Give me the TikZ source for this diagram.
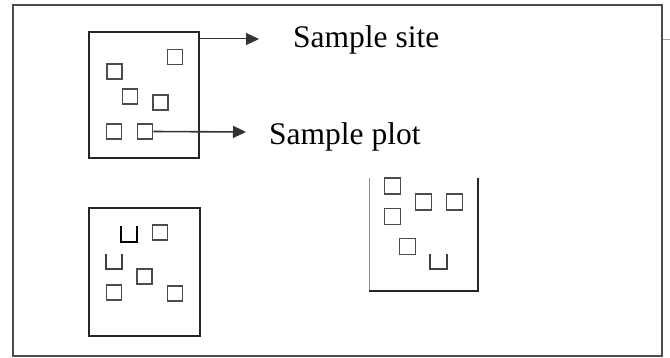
\documentclass[tikz,border=0pt]{standalone}
\usepackage{fontspec}
\setmainfont{Liberation Serif}
\usetikzlibrary{arrows.meta}
\begin{document}
\begin{tikzpicture}[x=1pt,y=-1pt,
  frame/.style={draw=black!70,line width=2pt},
  site/.style={draw=black!85,line width=1.4pt,inner sep=0pt},
  sq/.style={draw=black!70,line width=1.8pt,minimum size=15pt,inner sep=0pt},
  ushape/.style={draw=black!75,line width=1.8pt},
  conn/.style={draw=black!80,line width=1pt,-{Triangle[length=13pt,width=12pt]}},
  lbl/.style={inner sep=0pt,font=\fontsize{31.5}{36}\selectfont}]
\useasboundingbox (0,0) rectangle (670,358);
\fill[white] (0,0) rectangle (670,358);
% outer frame
\node[frame,minimum width=649pt,minimum height=351pt,inner sep=0pt] (outer) at (337.5,180.5) {};
\coordinate (tickA) at (663,39);
\coordinate (tickB) at (670,39);
\draw[black!35,line width=0.8pt] (tickA) -- (tickB);
% box 1 (sample site)
\node[site,minimum width=110pt,minimum height=126pt] (box1) at (144,95) {};
\node[sq] (a1) at (175,57) {};
\node[sq] (a2) at (114.5,71.5) {};
\node[sq] (a3) at (130,96.5) {};
\node[sq] (a4) at (160.5,102.5) {};
\node[sq] (a5) at (114,131.5) {};
\node[sq] (a6) at (145,131.5) {};
% labels
\node[lbl,anchor=base west] (site) at (293,48) {Sample site};
\node[lbl,anchor=base west] (plot) at (269,145) {Sample plot};
\coordinate (tip1) at (259,39);
\coordinate (tip2) at (246,132);
\draw[conn] (box1.east |- tip1) -- (tip1);
\draw[conn,line width=1.6pt] (a6.east) -- (tip2);
% box 2
\node[site,minimum width=111pt,minimum height=128pt] (box2) at (144.5,272) {};
\draw[ushape,draw=black,line width=2.4pt] (121,226) -- (121,242) -- (137,242) -- (137,226);
\node[sq] (b1) at (160,232.5) {};
\draw[ushape] (106,254) -- (106,269) -- (122,269) -- (122,254);
\node[sq] (b2) at (144.5,276.5) {};
\node[sq] (b3) at (114,292.5) {};
\node[sq] (b4) at (175,293.5) {};
% box 3 (top hidden behind label)
\coordinate (c3tl) at (369,178);
\coordinate (c3bl) at (369,291);
\coordinate (c3br) at (478,291);
\coordinate (c3tr) at (478,178);
\draw[black!45,line width=1pt] (c3tl) -- (c3bl);
\draw[black!85,line width=1.5pt] (c3bl) -- (c3br) -- (c3tr);
\node[sq,minimum size=16pt] (d1) at (392.5,186) {};
\node[sq,minimum size=16pt] (d2) at (423.5,202) {};
\node[sq,minimum size=16pt] (d3) at (454.5,202) {};
\node[sq,minimum size=16pt] (d4) at (392.5,216.5) {};
\node[sq,minimum size=16pt] (d5) at (407.5,246.5) {};
\draw[ushape] (430,254) -- (430,269) -- (447,269) -- (447,254);
\end{tikzpicture}
\end{document}
